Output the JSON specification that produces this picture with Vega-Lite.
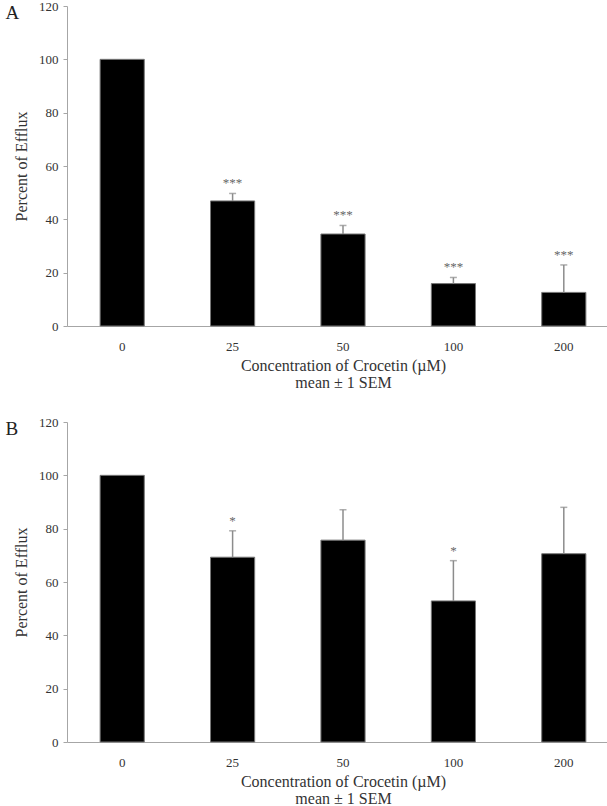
{
  "$schema": "https://vega.github.io/schema/vega-lite/v6.json",
  "padding": {"left": 5, "top": 0, "right": 0, "bottom": 0},
  "spacing": 26,
  "config": {
    "view": {"stroke": null},
    "font": "Liberation Serif",
    "axis": {
      "domainColor": "#a6a6a6",
      "tickColor": "#a6a6a6",
      "labelColor": "#333333",
      "titleColor": "#333333",
      "labelFont": "Liberation Serif",
      "titleFont": "Liberation Serif",
      "titleFontWeight": "normal",
      "grid": false,
      "labelFontSize": 13,
      "titleFontSize": 16
    },
    "title": {"font": "Liberation Serif", "fontWeight": "normal", "fontSize": 19, "color": "#222222", "anchor": "start", "frame": "bounds", "offset": -23, "dx": -8}
  },
  "vconcat": [
    {
      "title": {"text": "A"},
      "width": 552,
      "height": 320,
      "data": {"values": [
        {"conc": "0", "value": 100, "upper": null, "sig": ""},
        {"conc": "25", "value": 46.9, "upper": 49.7, "sig": "***"},
        {"conc": "50", "value": 34.5, "upper": 37.7, "sig": "***"},
        {"conc": "100", "value": 15.9, "upper": 18.2, "sig": "***"},
        {"conc": "200", "value": 12.6, "upper": 22.9, "sig": "***"}
      ]},
      "encoding": {
        "x": {"field": "conc", "type": "ordinal", "sort": ["0", "25", "50", "100", "200"],
          "scale": {"paddingInner": 0.6, "paddingOuter": 0.3},
          "axis": {"labelAngle": 0, "ticks": false, "tickSize": 0, "labelPadding": 14, "title": ["Concentration of Crocetin (µM)", "mean ± 1 SEM"], "titlePadding": 4, "titleLineHeight": 17, "titleFontSize": 16}}
      },
      "layer": [
        {"mark": {"type": "bar", "color": "#000000", "stroke": "#777777", "strokeWidth": 1},
         "encoding": {"y": {"field": "value", "type": "quantitative", "scale": {"domain": [0, 120]},
           "axis": {"values": [0, 20, 40, 60, 80, 100, 120], "tickSize": 4, "labelPadding": 5, "title": "Percent of Efflux", "titlePadding": 9}}}},
        {"transform": [{"filter": "datum.upper != null"}],
         "mark": {"type": "rule", "color": "#8c8c8c", "strokeWidth": 1.5},
         "encoding": {"y": {"field": "value", "type": "quantitative"}, "y2": {"field": "upper"}}},
        {"transform": [{"filter": "datum.upper != null"}],
         "mark": {"type": "tick", "color": "#8c8c8c", "size": 7, "thickness": 1.5},
         "encoding": {"y": {"field": "upper", "type": "quantitative"}}},
        {"transform": [{"filter": "datum.upper != null"}],
         "mark": {"type": "text", "color": "#666666", "fontSize": 13, "baseline": "alphabetic", "dy": -6},
         "encoding": {"y": {"field": "upper", "type": "quantitative"}, "text": {"field": "sig"}}}
      ]
    },
    {
      "title": {"text": "B"},
      "width": 552,
      "height": 320,
      "data": {"values": [
        {"conc": "0", "value": 100, "upper": null, "sig": ""},
        {"conc": "25", "value": 69.3, "upper": 79.2, "sig": "*"},
        {"conc": "50", "value": 75.7, "upper": 87.1, "sig": ""},
        {"conc": "100", "value": 52.9, "upper": 68.0, "sig": "*"},
        {"conc": "200", "value": 70.6, "upper": 88.0, "sig": ""}
      ]},
      "encoding": {
        "x": {"field": "conc", "type": "ordinal", "sort": ["0", "25", "50", "100", "200"],
          "scale": {"paddingInner": 0.6, "paddingOuter": 0.3},
          "axis": {"labelAngle": 0, "ticks": false, "tickSize": 0, "labelPadding": 14, "title": ["Concentration of Crocetin (µM)", "mean ± 1 SEM"], "titlePadding": 4, "titleLineHeight": 17, "titleFontSize": 16}}
      },
      "layer": [
        {"mark": {"type": "bar", "color": "#000000", "stroke": "#777777", "strokeWidth": 1},
         "encoding": {"y": {"field": "value", "type": "quantitative", "scale": {"domain": [0, 120]},
           "axis": {"values": [0, 20, 40, 60, 80, 100, 120], "tickSize": 4, "labelPadding": 5, "title": "Percent of Efflux", "titlePadding": 9}}}},
        {"transform": [{"filter": "datum.upper != null"}],
         "mark": {"type": "rule", "color": "#8c8c8c", "strokeWidth": 1.5},
         "encoding": {"y": {"field": "value", "type": "quantitative"}, "y2": {"field": "upper"}}},
        {"transform": [{"filter": "datum.upper != null"}],
         "mark": {"type": "tick", "color": "#8c8c8c", "size": 7, "thickness": 1.5},
         "encoding": {"y": {"field": "upper", "type": "quantitative"}}},
        {"transform": [{"filter": "datum.upper != null"}],
         "mark": {"type": "text", "color": "#666666", "fontSize": 13, "baseline": "alphabetic", "dy": -6},
         "encoding": {"y": {"field": "upper", "type": "quantitative"}, "text": {"field": "sig"}}}
      ]
    }
  ]
}
